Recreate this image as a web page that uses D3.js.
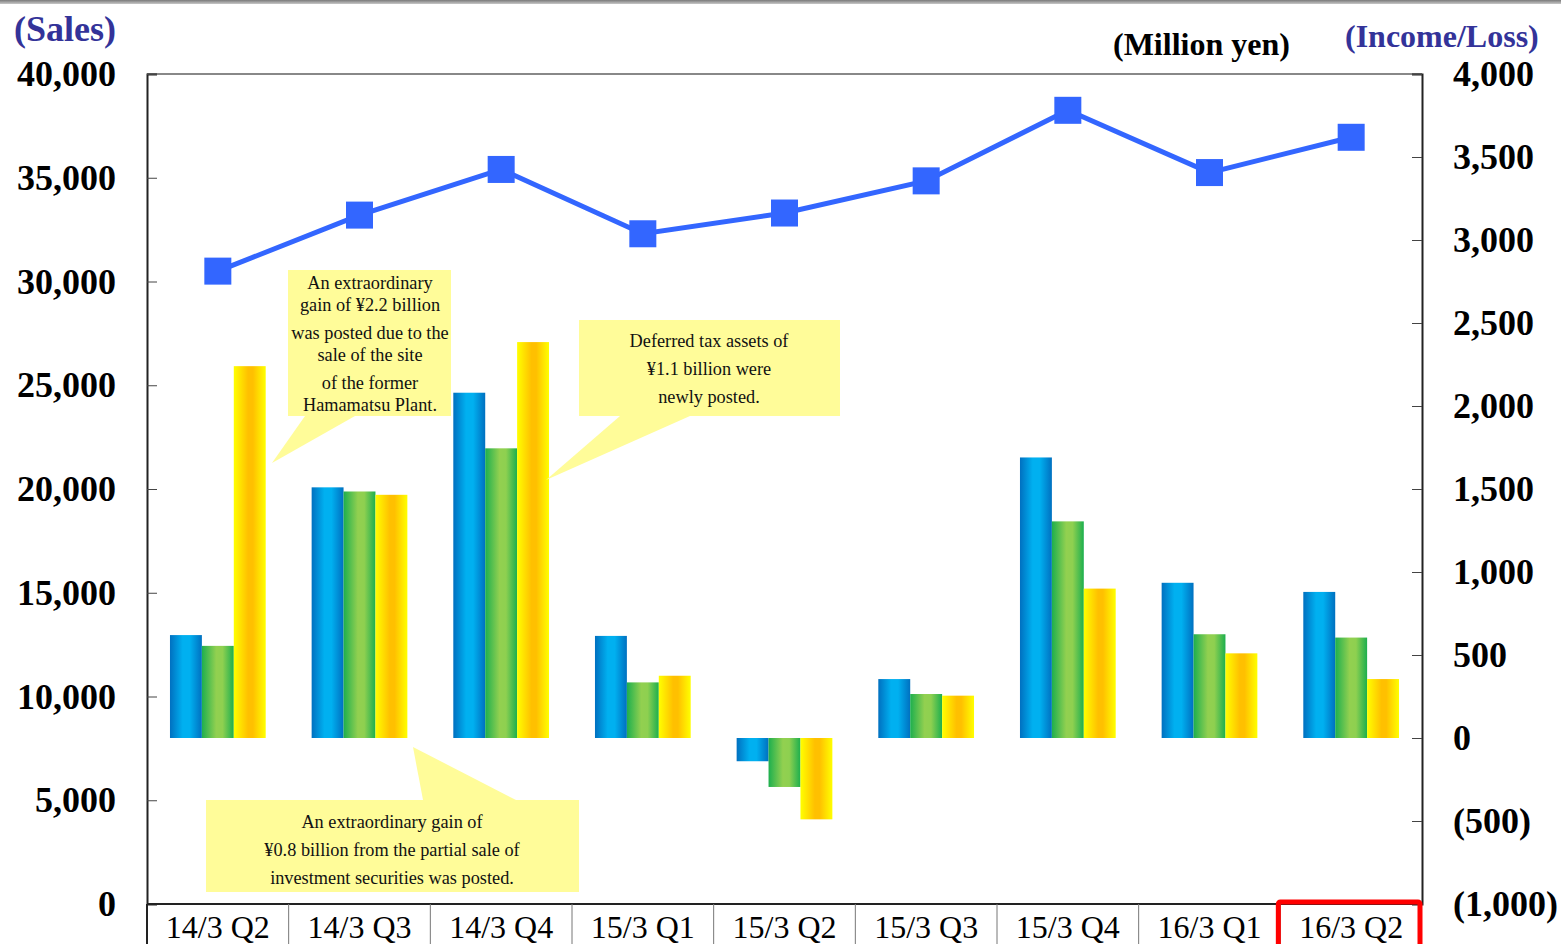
<!DOCTYPE html>
<html>
<head>
<meta charset="utf-8">
<script src="https://cdn.jsdelivr.net/npm/d3@7"></script>
<style>
  body { margin: 0; background: #fff; }
  svg { display: block; font-family: "Liberation Serif", "Times New Roman", serif; }
</style>
</head>
<body>
<svg id="chart" width="1561" height="944"></svg>
<script>
// data
const quarters = ["14/3 Q2", "14/3 Q3", "14/3 Q4", "15/3 Q1", "15/3 Q2", "15/3 Q3", "15/3 Q4", "16/3 Q1", "16/3 Q2"];
const sales = [30500, 33200, 35400, 32300, 33300, 34850, 38250, 35250, 36950];
const operatingIncome = [620, 1510, 2080, 615, -140, 355, 1690, 935, 880];
const ordinaryIncome = [555, 1485, 1745, 335, -295, 265, 1305, 625, 605];
const netIncome = [2240, 1465, 2385, 375, -490, 255, 900, 510, 355];
const salesTicks = [0, 5000, 10000, 15000, 20000, 25000, 30000, 35000, 40000];
const incomeTicks = [-1000, -500, 0, 500, 1000, 1500, 2000, 2500, 3000, 3500, 4000];

const svg = d3.select("#chart");
const plotLeft = 147, plotRight = 1422, plotTop = 74, plotBottom = 904;

// 比例尺
const x = d3.scaleBand().domain(quarters).range([plotLeft, plotRight]).padding(0);
const xs = d3.scaleBand().domain([0, 1, 2]).range([0, x.bandwidth()]).paddingInner(0).paddingOuter(0.72);
const ySales = d3.scaleLinear().domain([0, 40000]).range([plotBottom, plotTop]);
const yInc = d3.scaleLinear().domain([-1000, 4000]).range([plotBottom, plotTop]);

const defs = svg.append("defs");

// top grey bar
const topGrad = defs.append("linearGradient").attr("id", "topbar")
  .attr("x1", 0).attr("y1", 0).attr("x2", 0).attr("y2", 1);
topGrad.append("stop").attr("offset", "0%").attr("stop-color", "#7a7a7a");
topGrad.append("stop").attr("offset", "100%").attr("stop-color", "#c8c8c8");
svg.append("rect").attr("x", 0).attr("y", 0).attr("width", 1561).attr("height", 4).attr("fill", "url(#topbar)");

// gradients for bars
const gradSets = [
  { id: "gBlue", stops: [[0, "#0070C0"], [0.4, "#00B0F0"], [0.62, "#00B0F0"], [1, "#0070C0"]] },
  { id: "gGreen", stops: [[0, "#1DAF4E"], [0.45, "#92D050"], [0.65, "#8ED050"], [1, "#1DAF4E"]] },
  { id: "gYellow", stops: [[0, "#FFFF00"], [0.45, "#FFC000"], [0.6, "#FFC000"], [1, "#FFFF00"]] }
];
gradSets.forEach(g => {
  const lg = defs.append("linearGradient").attr("id", g.id).attr("x1", 0).attr("x2", 1).attr("y1", 0).attr("y2", 0);
  g.stops.forEach(s => lg.append("stop").attr("offset", s[0]).attr("stop-color", s[1]));
});

// frame
svg.append("line").attr("x1", plotLeft).attr("x2", plotRight).attr("y1", plotTop).attr("y2", plotTop)
  .attr("stroke", "#888").attr("stroke-width", 2);

// bars
const seriesList = [operatingIncome, ordinaryIncome, netIncome];
seriesList.forEach((vals, si) => {
  svg.append("g").selectAll("rect")
    .data(vals)
    .enter()
    .append("rect")
    .attr("x", (d, i) => x(quarters[i]) + xs(si))
    .attr("width", xs.bandwidth())
    .attr("y", d => yInc(Math.max(0, d)))
    .attr("height", d => Math.abs(yInc(d) - yInc(0)))
    .attr("fill", "url(#" + gradSets[si].id + ")");
});

// callouts
const callouts = [
  { box: [288, 270, 163, 146], tail: [[305, 416], [355, 416], [272, 463]], cx: 370,
    lines: [["An extraordinary", 289], ["gain of ¥2.2 billion", 311], ["was posted due to the", 339], ["sale of the site", 361], ["of the former", 389], ["Hamamatsu Plant.", 411]] },
  { box: [579, 320, 261, 96], tail: [[620, 416], [690, 416], [546, 480]], cx: 709,
    lines: [["Deferred tax assets of", 347], ["¥1.1 billion were", 375], ["newly posted.", 403]] },
  { box: [206, 800, 373, 92], tail: [[423, 800], [516, 800], [413, 747]], cx: 392,
    lines: [["An extraordinary gain of", 828], ["¥0.8 billion from the partial sale of", 856], ["investment securities was posted.", 884]] }
];
const cg = svg.append("g");
callouts.forEach(c => {
  cg.append("path").attr("d", d3.line()(c.tail) + "Z").attr("fill", "#FFFC99");
  cg.append("rect").attr("x", c.box[0]).attr("y", c.box[1]).attr("width", c.box[2]).attr("height", c.box[3]).attr("fill", "#FFFC99");
  c.lines.forEach(l => {
    cg.append("text").attr("x", c.cx).attr("y", l[1]).attr("text-anchor", "middle")
      .attr("font-size", "18.3px").attr("fill", "#111").text(l[0]);
  });
});

// sales line
const line = d3.line().x((d, i) => x(quarters[i]) + x.bandwidth() / 2).y(d => ySales(d));
svg.append("path").datum(sales).attr("d", line).attr("fill", "none").attr("stroke", "#3366FF").attr("stroke-width", 5);
svg.append("g").selectAll("rect").data(sales).enter().append("rect")
  .attr("x", (d, i) => x(quarters[i]) + x.bandwidth() / 2 - 13.5)
  .attr("y", d => ySales(d) - 13.5)
  .attr("width", 27).attr("height", 27).attr("fill", "#3366FF");

// axes
const leftAxis = svg.append("g").attr("transform", `translate(${plotLeft},0)`)
  .call(d3.axisRight(ySales).tickValues(salesTicks).tickSize(10).tickFormat(""));
leftAxis.select(".domain").attr("stroke", "#222").attr("stroke-width", 2);
leftAxis.selectAll(".tick line").attr("stroke", "#444");
svg.append("g").selectAll("text").data(salesTicks).enter().append("text")
  .attr("x", 116).attr("y", d => ySales(d) + 12).attr("text-anchor", "end")
  .attr("font-size", "36px").attr("font-weight", "bold").text(d3.format(","));

const rightAxis = svg.append("g").attr("transform", `translate(${plotRight},0)`)
  .call(d3.axisLeft(yInc).tickValues(incomeTicks).tickSize(10).tickFormat(""));
rightAxis.select(".domain").attr("stroke", "#222").attr("stroke-width", 2);
rightAxis.selectAll(".tick line").attr("stroke", "#444");
svg.append("g").selectAll("text").data(incomeTicks).enter().append("text")
  .attr("x", 1453)
  .attr("y", d => yInc(d) + 12)
  .attr("font-size", "36px").attr("font-weight", "bold")
  .text(d => d < 0 ? "(" + d3.format(",")(-d) + ")" : d3.format(",")(d));

// category label row
svg.append("line").attr("x1", plotLeft).attr("x2", plotRight).attr("y1", plotBottom).attr("y2", plotBottom)
  .attr("stroke", "#222").attr("stroke-width", 2);
svg.append("g").selectAll("line").data(quarters).enter().append("line")
  .attr("x1", d => x(d)).attr("x2", d => x(d)).attr("y1", plotBottom).attr("y2", 944)
  .attr("stroke", (d, i) => i === 0 ? "#222" : "#777").attr("stroke-width", (d, i) => i === 0 ? 2 : 1);
svg.append("g").selectAll("text").data(quarters).enter().append("text")
  .attr("x", d => x(d) + x.bandwidth() / 2).attr("y", 938).attr("text-anchor", "middle")
  .attr("font-size", "32px").text(d => d);
const last = quarters[quarters.length - 1];
svg.append("rect").attr("x", x(last) - 2).attr("y", 902).attr("width", x.bandwidth()).attr("height", 46)
  .attr("fill", "none").attr("stroke", "#FF0000").attr("stroke-width", 5).attr("rx", 2);

// titles
svg.append("text").attr("x", 14).attr("y", 41).attr("font-size", "36px").attr("font-weight", "bold")
  .attr("fill", "#333399").text("(Sales)");
svg.append("text").attr("x", 1345).attr("y", 47).attr("font-size", "32px").attr("font-weight", "bold")
  .attr("fill", "#333399").text("(Income/Loss)");
svg.append("text").attr("x", 1113).attr("y", 55).attr("font-size", "32px").attr("font-weight", "bold")
  .attr("fill", "#000").text("(Million yen)");
</script>
</body>
</html>
